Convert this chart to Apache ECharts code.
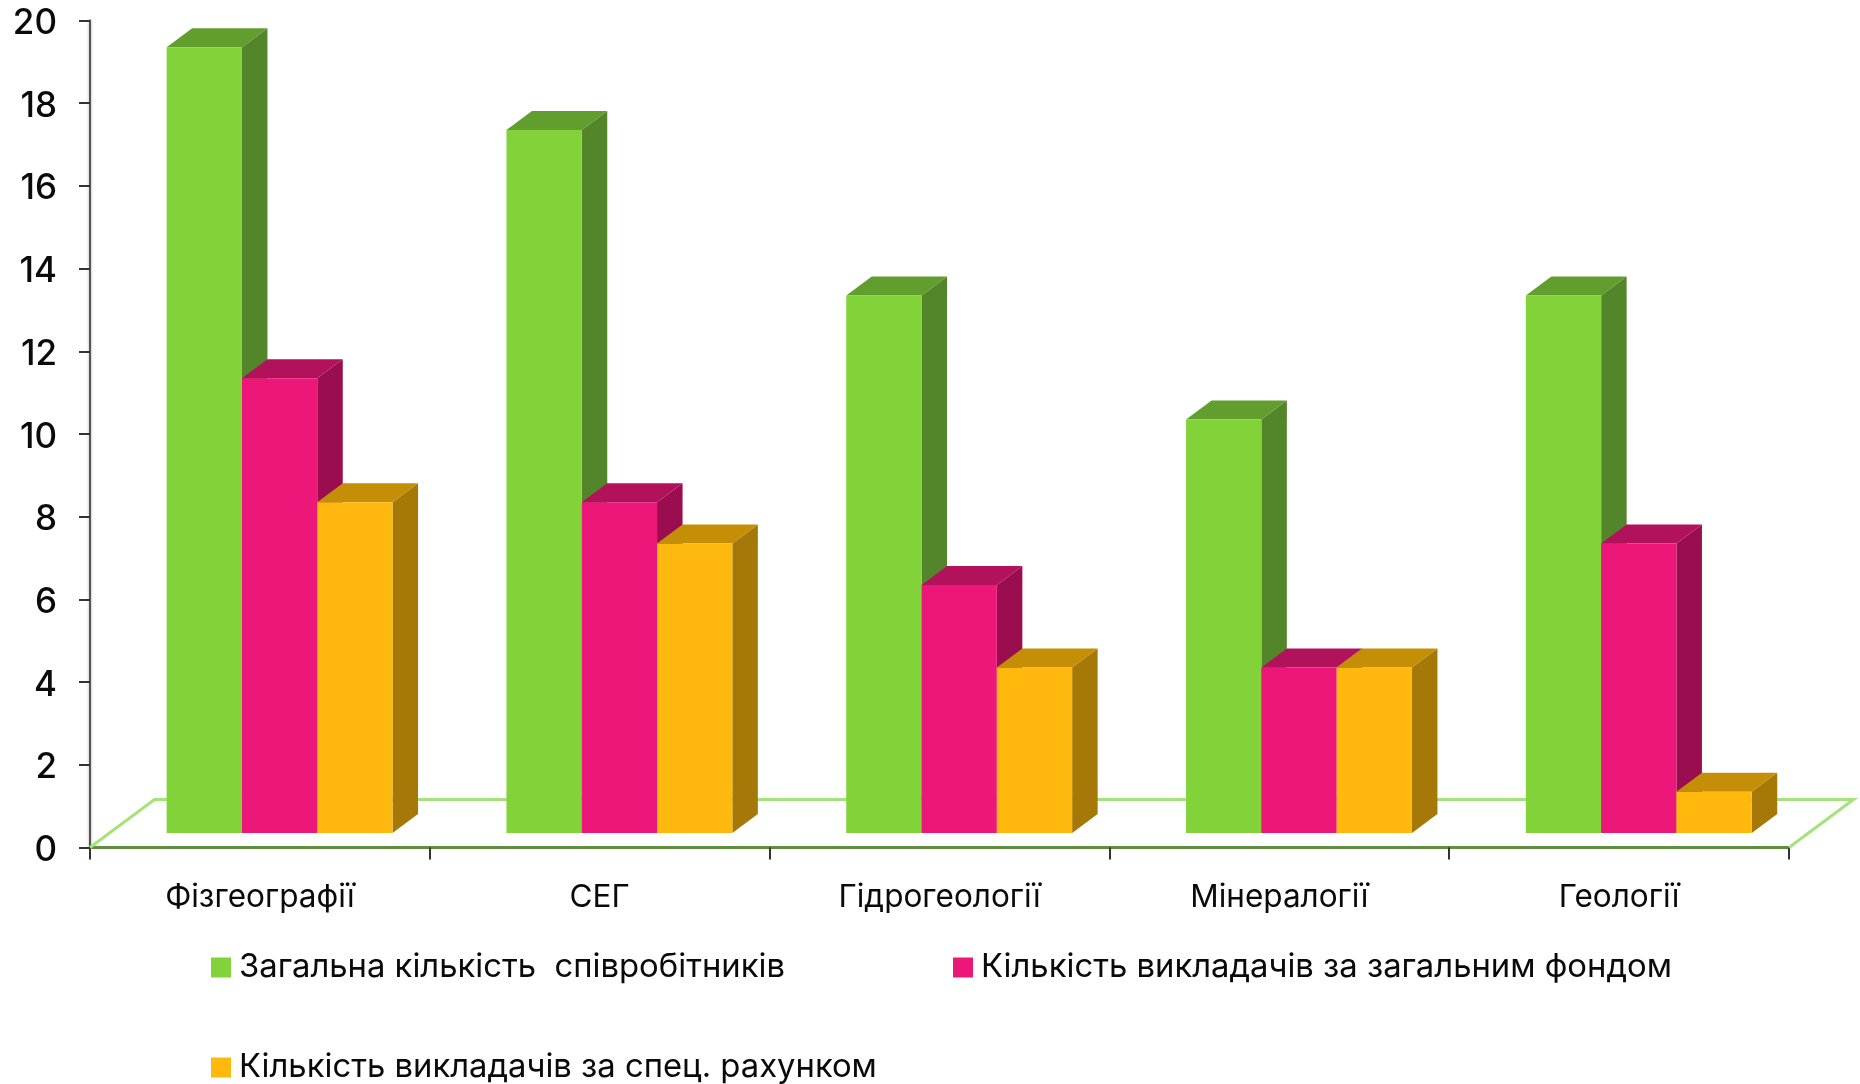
<!DOCTYPE html>
<html><head><meta charset="utf-8">
<style>html,body{margin:0;padding:0;background:#fff}#c{width:1860px;height:1084px}</style>
<script src="https://cdn.jsdelivr.net/npm/echarts@6/dist/echarts.min.js"></script></head>
<body><div id="c"></div>
<script>
const categories = ['Фізгеографії','СЕГ','Гідрогеології','Мінералогії','Геології'];
const seriesNames = ['Загальна кількість  співробітників','Кількість викладачів за загальним фондом','Кількість викладачів за спец. рахунком'];
const totalStaff = [19,17,13,10,13];
const generalFund = [11,8,6,4,7];
const specialAccount = [8,7,4,4,1];
const yTicks = {min:0,max:20,interval:2};

const palette = [
  {front:'#82D23A',side:'#53862A',top:'#629E2E'},
  {front:'#ED1679',side:'#9A0E4F',top:'#B2125B'},
  {front:'#FFB80D',side:'#A57808',top:'#C48F07'}
];
const barFrac = 75.3/339.8;     // bar width as share of category band
const planeDx = 19.7, planeDy = 14.5;  // shift of bar front plane on the floor
const depthDx = 25.5, depthDy = 19;    // bar depth

function barRenderer(si){
  return function(params, api){
    const i = api.value(0), v = api.value(1);
    const band = api.size([1,0])[0], w = band*barFrac;
    const c0 = api.coord([i,0]), c1 = api.coord([i,v]);
    const x0 = c0[0] + (si-1.5)*w + planeDx, x1 = x0 + w;
    const yb = c0[1] - planeDy, yt = c1[1] - planeDy;
    const p = palette[si];
    return {type:'group',children:[
      {type:'polygon',shape:{points:[[x1,yt],[x1+depthDx,yt-depthDy],[x1+depthDx,yb-depthDy],[x1,yb]]},style:{fill:p.side}},
      {type:'polygon',shape:{points:[[x0,yt],[x0+depthDx,yt-depthDy],[x1+depthDx,yt-depthDy],[x1,yt]]},style:{fill:p.top}},
      {type:'rect',shape:{x:x0,y:yt,width:w,height:yb-yt},style:{fill:p.front}}
    ]};
  };
}
function floorRenderer(params, api){
  const cs = params.coordSys;
  const l = cs.x, r = cs.x+cs.width, b = cs.y+cs.height, dx = 64.5, dy = 48;
  return {type:'group',children:[
    {type:'polyline',shape:{points:[[l,b],[l+dx,b-dy],[r+dx,b-dy],[r,b]]},style:{fill:'none',stroke:'#A6E27C',lineWidth:3}}
  ]};
}
const seriesValues = [totalStaff,generalFund,specialAccount];
const chart = echarts.init(document.getElementById('c'),null,{renderer:'canvas'});
const legendStyle = {color:'#0a0a0a',fontFamily:'Inter',fontSize:32.8,padding:[0,0,0,3]};
const tickFont = {color:'#0a0a0a',fontFamily:'Inter',fontSize:35,fontWeight:500};
chart.setOption({
  animation:false,
  backgroundColor:'#fff',
  grid:{left:90,right:71,top:20.5,bottom:236.5},
  xAxis:{type:'category',data:categories,
    axisLine:{lineStyle:{color:'#5F8F3E',width:3}},
    axisTick:{show:true,length:12,lineStyle:{color:'#333',width:2}},
    axisLabel:{color:'#0a0a0a',fontFamily:'Inter',fontSize:31.5,margin:34,interval:0},
    splitLine:{show:false}},
  yAxis:{type:'value',min:yTicks.min,max:yTicks.max,interval:yTicks.interval,
    axisLine:{show:true,lineStyle:{color:'#555',width:2,shadowColor:'rgba(0,0,0,0.35)',shadowBlur:3}},
    axisTick:{show:true,length:11,lineStyle:{color:'#333',width:2}},
    axisLabel:Object.assign({},tickFont,{margin:33,formatter:'{t|{value}}',
      rich:{t:Object.assign({},tickFont,{padding:[6,0,0,0]})}}),
    splitLine:{show:false}},
  legend:[
    {data:[seriesNames[0]],left:206,top:946,itemWidth:20,itemHeight:20,icon:'rect',textStyle:legendStyle},
    {data:[seriesNames[1]],left:948,top:946,itemWidth:20,itemHeight:20,icon:'rect',textStyle:legendStyle},
    {data:[seriesNames[2]],left:206,top:1046,itemWidth:20,itemHeight:20,icon:'rect',textStyle:legendStyle}
  ],
  series:[
    {type:'custom',name:'floor',renderItem:floorRenderer,data:[[0,0]],silent:true,z:1},
    ...seriesNames.map((n,si)=>({
      type:'custom',name:n,renderItem:barRenderer(si),
      itemStyle:{color:palette[si].front},
      encode:{x:0,y:1},
      data:seriesValues[si].map((v,i)=>[i,v]),z:2+si
    }))
  ]
});
</script></body></html>
